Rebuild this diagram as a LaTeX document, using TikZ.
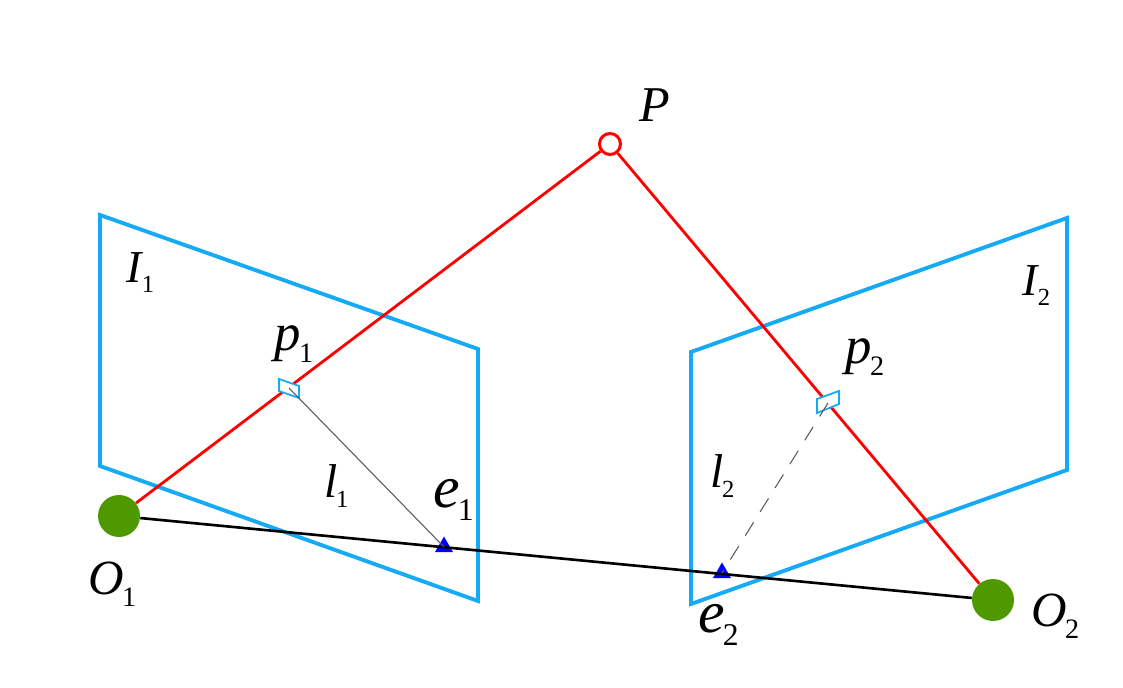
\documentclass[tikz,border=0pt]{standalone}
\usepackage{fontspec}
\setmainfont{Liberation Serif}
\usetikzlibrary{shapes.geometric}
% letter size, index size, letter, index
\newcommand{\biglab}[4]{{\fontsize{#1}{#1}\selectfont\textit{#3}}{\fontsize{#2}{#2}\selectfont\kern-.06em\raisebox{-.4em}{#4}}}
\begin{document}
\begin{tikzpicture}[
		x=0.02cm, y=-0.02cm,
		plane/.style={draw=planeblue, line width=2.2pt, line join=miter},
		ray/.style={draw=red, line width=1.6pt},
		baseline/.style={draw=black, line width=1.5pt},
		epiline/.style={draw=black!65, line width=0.6pt},
		center/.style={circle, fill=centergreen, minimum size=0.84cm, inner sep=0pt},
		point/.style={circle, draw=red, fill=white, line width=1.7pt, minimum size=0.42cm, inner sep=0pt},
		pixel/.style={draw=planeblue, fill=white, line width=1pt},
		epipole/.style={regular polygon, regular polygon sides=3, fill=blue, minimum size=0.42cm, inner sep=0pt},
		lab/.style={inner sep=0pt, anchor=base west}
	]
		\definecolor{planeblue}{RGB}{20,170,245}
		\definecolor{centergreen}{RGB}{79,153,0}
		\useasboundingbox (0,0) rectangle (1123,688);

		% image planes
		\draw[plane] (100,215) -- (478,349) -- (478,601) -- (100,466) -- cycle;
		\draw[plane] (1067,218) -- (691,352) -- (691,604) -- (1067,470) -- cycle;

		\node[center] (O1) at (119,516) {};
		\node[center] (O2) at (993,600) {};
		\node[point] (P) at (610,144) {};
		\coordinate (p1) at (289,388);
		\coordinate (p2) at (828,403);
		\node[epipole] (e1) at (444,547) {};
		\node[epipole] (e2) at (722,573) {};

		\draw[ray] (O1) -- (P);
		\draw[ray] (P) -- (O2);
		\draw[baseline] (O1) -- (O2);

		% small pixel patches
		\draw[pixel] (279,379) -- (299,386) -- (299,398) -- (279,391) -- cycle;
		\draw[pixel] (817,399) -- (839,391) -- (839,404) -- (817,413) -- cycle;

		\draw[epiline] (p1) -- (e1.center);
		\draw[epiline, dash pattern=on 9pt off 7pt] (p2) -- (e2.center);

		\node[lab] (labP) at (639,122) {\fontsize{28.5}{28.5}\selectfont\textit{P}};
		\node[lab] (labI1) at (126,283) {\biglab{26}{14}{I}{1}};
		\node[lab] (labI2) at (1022,296) {\biglab{26}{14}{I}{2}};
		\node[lab] (labp1) at (274,351) {\biglab{30}{16}{p}{1}};
		\node[lab] (labp2) at (845,364) {\biglab{30}{16}{p}{2}};
		\node[lab] (labl1) at (324,498) {\biglab{27}{14}{l}{1}};
		\node[lab] (labl2) at (710,488) {\biglab{27}{14}{l}{2}};
		\node[lab] (labe1) at (433,508) {\biglab{34}{18}{e}{1}};
		\node[lab] (labe2) at (698,633) {\biglab{34}{18}{e}{2}};
		\node[lab] (labO1) at (88,595) {\biglab{28}{16}{O}{1}};
		\node[lab] (labO2) at (1031,627) {\biglab{28}{16}{O}{2}};
	\end{tikzpicture}
\end{document}
